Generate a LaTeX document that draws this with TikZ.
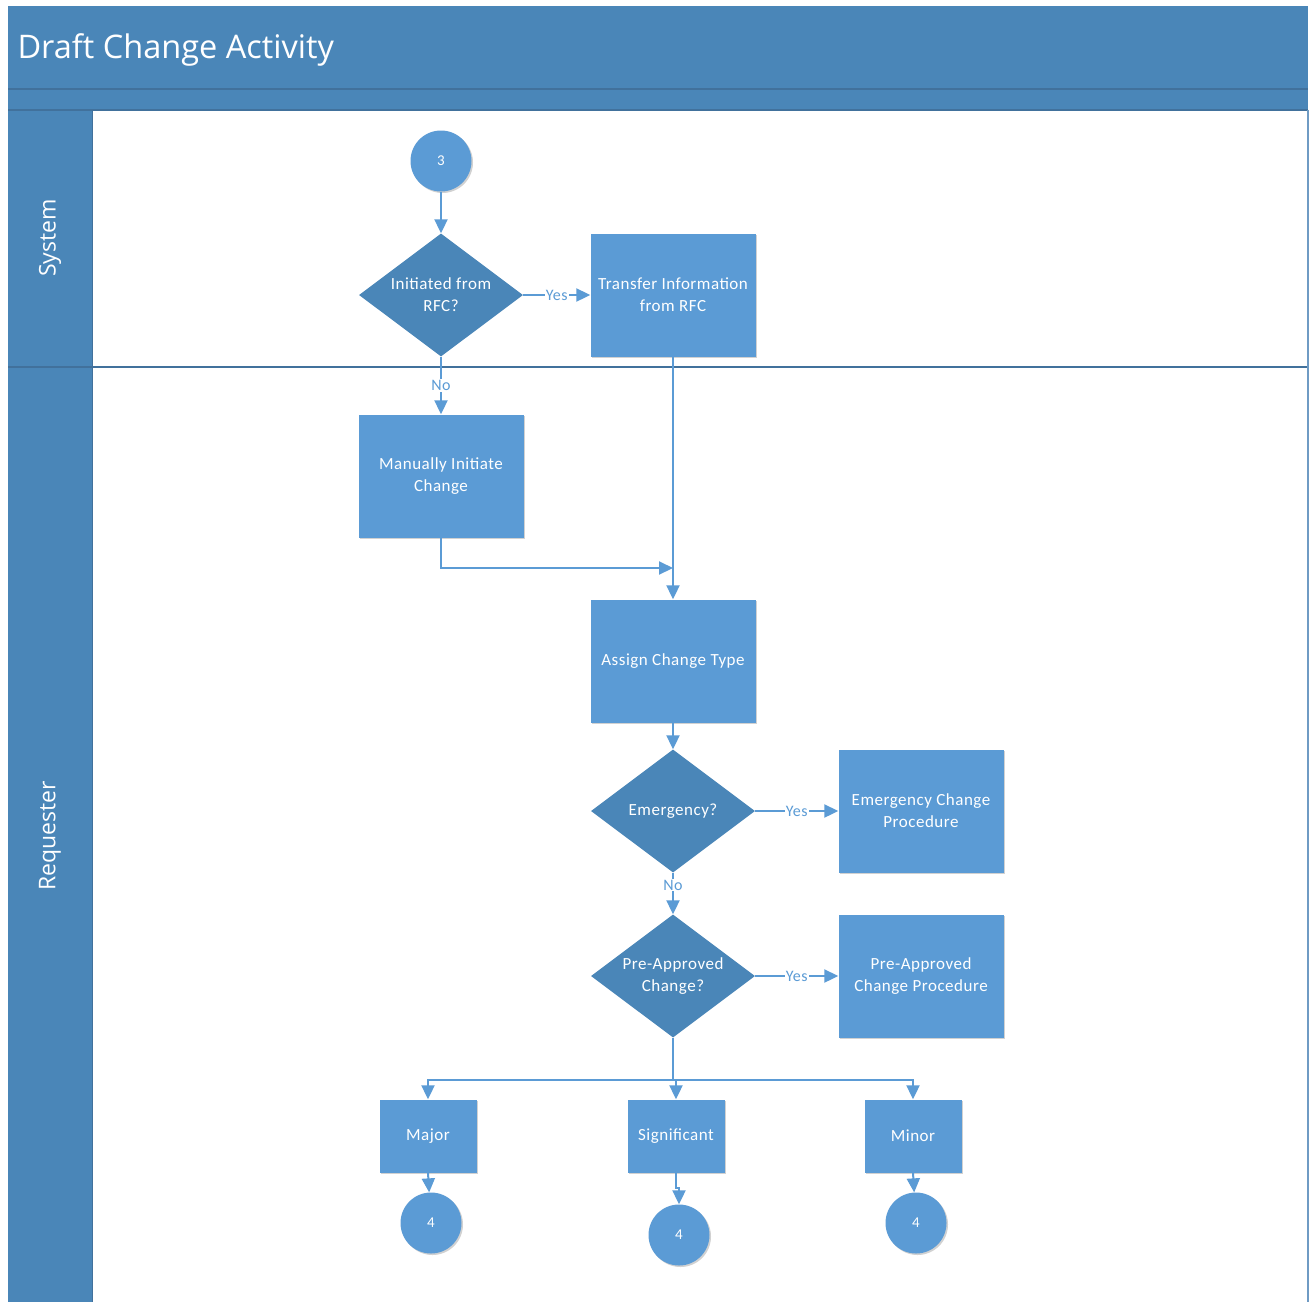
\documentclass[tikz,border=0pt]{standalone}
\usepackage{fontspec}
\setmainfont{Carlito}
\newfontfamily\nodefont[LetterSpace=3]{Carlito}
\newfontfamily\headfont{Open Sans}
\usetikzlibrary{shapes.geometric,arrows.meta,shadows}
\definecolor{laneblue}{HTML}{4A86B8}
\definecolor{laneline}{HTML}{41719C}
\definecolor{boxblue}{HTML}{5B9BD5}
\definecolor{decblue}{HTML}{4A86B8}
\definecolor{frameline}{HTML}{6F9BC4}
\begin{document}
\begin{tikzpicture}[x=1pt,y=-1pt,
  softshadow/.style={drop shadow={shadow xshift=1.5pt,shadow yshift=-1.5pt,opacity=0.18,fill=black}},
  nodetext/.style={text=white,align=center,font=\nodefont\fontsize{17}{22}\selectfont},
  proc/.style={rectangle,fill=boxblue,draw=none,inner sep=2pt,nodetext,
    minimum width=165pt,minimum height=123pt,softshadow},
  smallproc/.style={proc,minimum width=97pt,minimum height=73pt},
  decision/.style={diamond,fill=decblue,draw=none,inner sep=0pt,nodetext,
    minimum width=164pt,minimum height=123pt,aspect=1.33},
  connector/.style={circle,fill=boxblue,draw=none,text=white,inner sep=0pt,
    minimum size=61pt,font=\nodefont\fontsize{15}{15}\selectfont,softshadow},
  flow/.style={draw=boxblue,line width=2pt,-{Triangle[length=14pt,width=13pt]}},
  plainflow/.style={draw=boxblue,line width=2pt},
  lbl/.style={fill=white,inner sep=1pt,text=boxblue,font=\nodefont\fontsize{16}{16}\selectfont},
  lanetext/.style={rotate=90,text=white,font=\headfont\fontsize{23}{26}\selectfont}
]
\useasboundingbox (0,0) rectangle (1311,1302);
\fill[white] (0,0) rectangle (1311,1302);

% pool header and lane column
\fill[laneblue] (8,6) rectangle (1308,110);
\draw[laneline,line width=1.5pt] (8,89) -- (1308,89);
\fill[laneblue] (8,110) rectangle (92,1302);
\draw[laneline,line width=1.5pt] (8,110) -- (1308,110);
\draw[laneline,line width=1.5pt] (8,367) -- (1308,367);
\draw[frameline,line width=2pt] (1308,110) -- (1308,1302);
\draw[laneline,line width=1pt] (92,110) -- (92,1302);
\node[anchor=west,text=white,font=\headfont\fontsize{32.5}{38}\selectfont] (title) at (14,50) {Draft Change Activity};
\node[lanetext] (sys) at (50,238) {System};
\node[lanetext] (req) at (50,836) {Requester};

% flow nodes
\node[connector] (start) at (441,161) {3};
\node[decision] (rfc) at (441,295) {Initiated from\\RFC?};
\node[proc] (transfer) at (673,295) {Transfer Information\\from RFC};
\node[proc] (manual) at (441,476) {Manually Initiate\\Change};
\node[proc] (assign) at (673,661) {Assign Change Type};
\node[decision] (emerg) at (673,811) {Emergency?};
\node[proc] (ecp) at (921,811) {Emergency Change\\Procedure};
\node[decision] (preq) at (673,976) {Pre-Approved\\Change?};
\node[proc] (pcp) at (921,976) {Pre-Approved\\Change Procedure};
\node[smallproc] (major) at (428,1136) {Major};
\node[smallproc] (sig) at (676,1136) {Significant};
\node[smallproc] (minor) at (913,1136) {Minor};
\node[connector] (endA) at (431,1223) {4};
\node[connector] (endB) at (679,1235) {4};
\node[connector] (endC) at (916,1223) {4};

\coordinate (merge) at (673,568);
\coordinate (split) at (673,1080);
\coordinate (jog) at (679,1188);

% connectors
\draw[flow] (start) -- (rfc);
\draw[flow] (rfc) -- node[lbl] {Yes} (transfer);
\draw[flow] (rfc) -- node[lbl] {No} (manual);
\draw[flow] (transfer) -- (assign);
\draw[flow] (manual.south) |- (merge);
\draw[flow] (assign) -- (emerg);
\draw[flow] (emerg) -- node[lbl] {Yes} (ecp);
\draw[flow] (emerg) -- node[lbl,pos=0.3] {No} (preq);
\draw[flow] (preq) -- node[lbl] {Yes} (pcp);
\draw[plainflow] (preq.south) -- (split);
\draw[flow] (split) -| (major.north);
\draw[flow] (split) -| (sig.north);
\draw[flow] (split) -| (minor.north);
\draw[flow] (major.south) -- (endA);
\draw[flow] (sig.south) |- (jog) -- (endB);
\draw[flow] (minor.south) -- (endC);
\end{tikzpicture}
\end{document}
